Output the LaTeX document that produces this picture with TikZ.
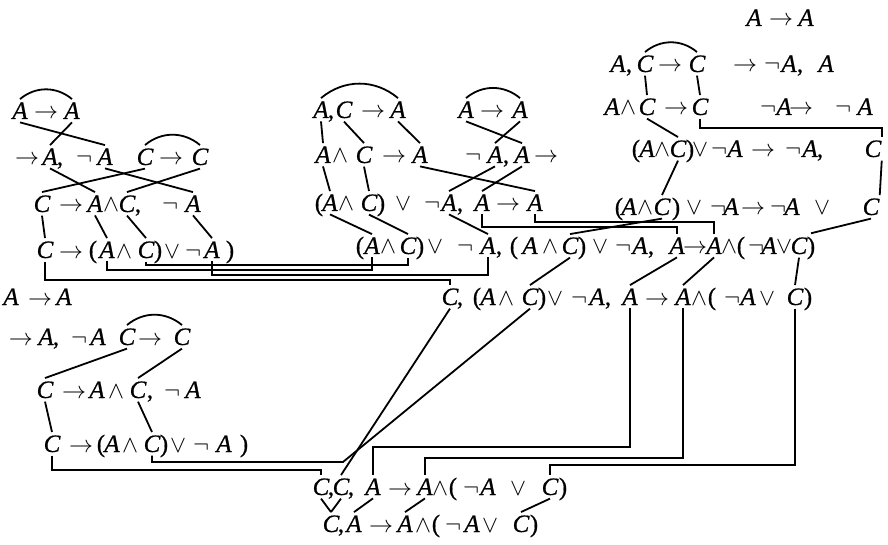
\documentclass[tikz,border=0pt]{standalone}
\usepackage{fontspec}
\setmainfont{Liberation Serif}
\newfontfamily\letfont{Liberation Serif}[FakeBold=0.6]
\newcommand\atA{{\letfont\itshape A}}
\newcommand\atC{{\letfont\itshape C}}
\newcommand\sto{$\rightarrow$}
\newcommand\sand{$\wedge$}
\newcommand\sor{$\vee$}
\newcommand\snot{\kern3pt$\neg$}
\newcommand\plft{{\letfont (}}
\newcommand\prgt{{\letfont )}}
\newcommand\cma{{\letfont ,}}
\newcommand\putrow[2]{\foreach \nm/\xx/\tx in {#2}{\node[tok] (\nm) at (\xx,#1) {\tx};}}
\tikzset{
  tok/.style={inner xsep=0pt, inner ysep=1.5pt, anchor=base, font=\fontsize{12.5}{14}\selectfont},
  conn/.style={line width=0.9pt},
  arc/.style={line width=0.9pt, out=40, in=140}
}
\begin{document}
\begin{tikzpicture}[x=0.5pt,y=-0.5pt]
\useasboundingbox (0,0) rectangle (888,545);
% left group
\putrow{119}{l1a/20/\atA, l1b/46/\sto, l1c/72/\atA}
\putrow{165}{l2a/27/\sto, l2b/50/\atA, l2c/60/\cma, l2d/81/\snot, l2e/105/\atA, l2f/145/\atC, l2g/171/\sto, l2h/200/\atC}
\putrow{212}{l3a/42/\atC, l3b/71/\sto, l3c/95/\atA, l3d/111/\sand, l3e/127/\atC, l3f/138/\cma, l3g/167/\snot, l3h/193/\atA}
\putrow{258}{l4a/45/\atC, l4b/71/\sto, l4c/93/\plft, l4d/107/\atA, l4e/124/\sand, l4f/146/\atC, l4g/158/\prgt, l4h/172/\sor, l4i/190/\snot, l4j/212/\atA, l4k/230/\prgt}
% middle group
\putrow{118}{m1a/321/\atA, m1b/331/\cma, m1c/344/\atC, m1d/373/\sto, m1e/398/\atA}
\putrow{118}{n1a/466/\atA, n1b/492/\sto, n1c/520/\atA}
\putrow{163}{m2a/323/\atA, m2b/340/\sand, m2c/364/\atC, m2d/394/\sto, m2e/420/\atA}
\putrow{163}{n2a/470/\snot, n2b/495/\atA, n2c/506/\cma, n2d/522/\atA, n2e/546/\sto}
\putrow{211}{m3a/319/\plft, m3b/330/\atA, m3c/346/\sand, m3d/369/\atC, m3e/381/\prgt, m3f/403/\sor, m3g/429/\snot, m3h/449/\atA, m3i/460/\cma, m3j/482/\atA, m3k/508/\sto, m3l/535/\atA}
% right group
\putrow{26}{r0a/754/\atA, r0b/781/\sto, r0c/806/\atA}
\putrow{72}{r1a/618/\atA, r1b/629/\cma, r1c/645/\atC, r1d/670/\sto, r1e/697/\atC, r1f/745/\sto, r1g/769/\snot, r1h/789/\atA, r1i/800/\cma, r1j/826/\atA}
\putrow{115}{r2a/612/\atA, r2b/628/\sand, r2c/647/\atC, r2d/676/\sto, r2e/700/\atC, r2f/765/\snot, r2g/784/\atA, r2h/801/\sto, r2i/840/\snot, r2j/865/\atA}
\putrow{157}{r3a/636/\plft, r3b/647/\atA, r3c/662/\sand, r3d/678/\atC, r3e/690/\prgt, r3f/700/\sor, r3g/716/\snot, r3h/735/\atA, r3i/763/\sto, r3j/790/\snot, r3k/810/\atA, r3l/820/\cma, r3m/873/\atC}
\putrow{215}{r4a/619/\plft, r4b/629/\atA, r4c/645/\sand, r4d/662/\atC, r4e/676/\prgt, r4f/694/\sor, r4g/715/\snot, r4h/731/\atA, r4i/753/\sto, r4j/775/\snot, r4k/792/\atA, r4l/822/\sor, r4m/871/\atC}
% row 5
\putrow{254}{p1/360/\plft, p2/372/\atA, p3/388/\sand, p4/408/\atC, p5/420/\prgt, p6/435/\sor, p7/462/\snot, p8/488/\atA, p9/499/\cma, p10/514/\plft, p11/530/\atA, p12/550/\sand, p13/570/\atC, p14/582/\prgt, p15/600/\sor, p16/620/\snot, p17/640/\atA, p18/651/\cma, p19/677/\atA, p20/695/\sto, p21/714/\atA, p22/729/\sand, p23/741/\plft, p24/753/\snot, p25/769/\atA, p26/784/\sor, p27/799/\atC, p28/811/\prgt}
% row 6
\putrow{305}{q1/450/\atC, q2/460/\cma, q3/477/\plft, q4/488/\atA, q5/506/\sand, q6/530/\atC, q7/542/\prgt, q8/555/\sor, q9/576/\snot, q10/597/\atA, q11/608/\cma, q12/630/\atA, q13/657/\sto, q14/683/\atA, q15/699/\sand, q16/712/\plft, q17/729/\snot, q18/748/\atA, q19/767/\sor, q20/795/\atC, q21/808/\prgt}
% lower left group
\putrow{305}{s1a/11/\atA, s1b/40/\sto, s1c/64/\atA}
\putrow{345}{s2a/21/\sto, s2b/46/\atA, s2c/56/\cma, s2d/76/\snot, s2e/98/\atA, s2f/127/\atC, s2g/150/\sto, s2h/182/\atC}
\putrow{398}{s3a/45/\atC, s3b/74/\sto, s3c/97/\atA, s3d/116/\sand, s3e/138/\atC, s3f/150/\cma, s3g/169/\snot, s3h/193/\atA}
\putrow{452}{s4a/52/\atC, s4b/81/\sto, s4c/101/\plft, s4d/112/\atA, s4e/130/\sand, s4f/152/\atC, s4g/164/\prgt, s4h/178/\sor, s4i/198/\snot, s4j/224/\atA, s4k/244/\prgt}
% rows 7 and 8
\putrow{495}{t1/321/\atC, t2/331/\cma, t3/341/\atC, t4/351/\cma, t5/373/\atA, t6/400/\sto, t7/425/\atA, t8/440/\sand, t9/453/\plft, t10/468/\snot, t11/488/\atA, t12/518/\sor, t13/550/\atC, t14/563/\prgt}
\putrow{532}{u1/331/\atC, u2/341/\cma, u3/354/\atA, u4/381/\sto, u5/405/\atA, u6/423/\sand, u7/436/\plft, u8/450/\snot, u9/472/\atA, u10/490/\sor, u11/521/\atC, u12/534/\prgt}

% arcs
\draw[arc] (l1a.north) to (l1c.north);
\draw[arc] (l2f.north) to (l2h.north);
\draw[arc] (m1a.north) to (m1e.north);
\draw[arc] (n1a.north) to (n1c.north);
\draw[arc] (r1c.north) to (r1e.north);
\draw[arc] (s2f.north) to (s2h.north);

% left group links
\draw[conn] (l1a.south) -- (l2e.north);
\draw[conn] (l1c.south) -- (l2b.north);
\draw[conn] (l2b.south) -- (l3c.north);
\draw[conn] (l2e.south) -- (l3h.north);
\draw[conn] (l2f.south) -- (l3a.north);
\draw[conn] (l2h.south) -- (l3e.north);
\draw[conn] (l3a.south) -- (l4a.north);
\draw[conn] (l3c.south) -- (l4d.north);
\draw[conn] (l3e.south) -- (l4f.north);
\draw[conn] (l3h.south) -- (l4j.north);

% middle group links
\draw[conn] (m1a.south) -- (m2a.north);
\draw[conn] (m1c.south) -- (m2c.north);
\draw[conn] (m1e.south) -- (m2e.north);
\draw[conn] (n1a.south) -- (n2d.north);
\draw[conn] (n1c.south) -- (n2b.north);
\draw[conn] (m2a.south) -- (m3b.north);
\draw[conn] (m2c.south) -- (m3d.north);
\draw[conn] (m2e.south) -- (m3l.north);
\draw[conn] (n2b.south) -- (m3h.north);
\draw[conn] (n2d.south) -- (m3j.north);
\draw[conn] (m3b.south) -- (p2.north);
\draw[conn] (m3d.south) -- (p4.north);
\draw[conn] (m3h.south) -- (p8.north);
\draw[conn] (m3j.south) -- (m3j.south |- 0,227) -| (p19.north);
\draw[conn] (m3l.south) -- (m3l.south |- 0,222) -| (p21.north);

% right group links
\draw[conn] (r1c.south) -- (r2c.north);
\draw[conn] (r1e.south) -- (r2e.north);
\draw[conn] (r2c.south) -- (r3d.north);
\draw[conn] (r2e.south) -- (r2e.south |- 0,128) -| (r3m.north east);
\draw[conn] (r3d.south) -- (r4d.north);
\draw[conn] (r3m.south east) -- (r4m.north east);
\draw[conn] (r4d.south) -- (p13.north);
\draw[conn] (r4m.south) -- (p28.north);

% row 5 to row 6
\draw[conn] (p13.south) -- (q6.north);
\draw[conn] (p19.south) -- (q12.north);
\draw[conn] (p21.south) -- (q14.north);
\draw[conn] (p27.south) -- (q20.north);

% brackets from the left group
\draw[conn] (l4d.south) -- (l4d.south |- 0,270) -| (p2.south);
\draw[conn] (l4f.south) -- (l4f.south |- 0,265) -| (p4.south);
\draw[conn] (l4j.south) -- (l4j.south |- 0,275) -| (p8.south);
\draw[conn] (l4a.south) -- (l4a.south |- 0,280) -| (q1.north);

% lower left links
\draw[conn] (s2f.south) -- (s3a.north);
\draw[conn] (s2h.south) -- (s3e.north);
\draw[conn] (s3a.south) -- (s4a.north);
\draw[conn] (s3e.south) -- (s4f.north);

% row 6 to row 7
\draw[conn] (q1.south) -- (t3.north);
\draw[conn] (q6.south) -- (343,462) -| (s4f.south);
\draw[conn] (s4a.south) -- (s4a.south |- 0,470) -| (t1.north);
\draw[conn] (q12.south) -- (q12.south |- 0,447) -| (t5.north);
\draw[conn] (q14.south) -- (q14.south |- 0,458) -| (t7.north);
\draw[conn] (q20.south) -- (q20.south |- 0,465) -| (t13.north);

% row 7 to row 8
\draw[conn] (t1.south) -- (u1.north);
\draw[conn] (t3.south) -- (u1.north);
\draw[conn] (t5.south) -- (u3.north);
\draw[conn] (t7.south) -- (u5.north);
\draw[conn] (t13.south) -- (u11.north);
\end{tikzpicture}
\end{document}
